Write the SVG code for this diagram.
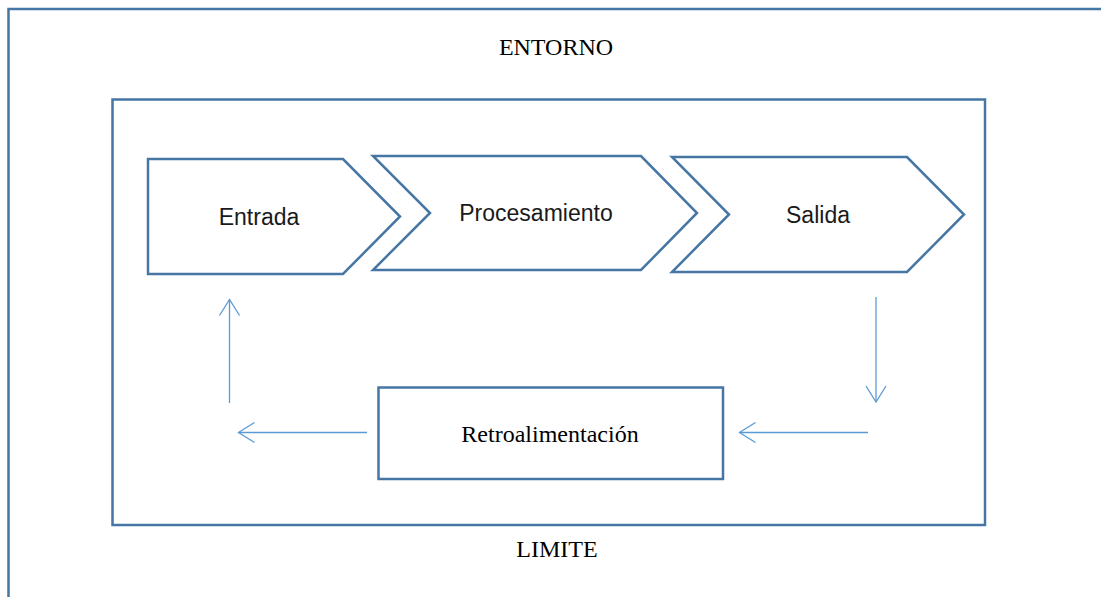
<svg xmlns="http://www.w3.org/2000/svg" width="1101" height="597" viewBox="0 0 1101 597">
<style>
.frame{fill:none;stroke:#4676A3;stroke-width:2.5}
.shape{fill:#ffffff;stroke:#4676A3;stroke-width:2.5;stroke-linejoin:miter}
.sans{font-family:"Liberation Sans",Arial,sans-serif;font-size:23px;fill:#1a1a1a;text-anchor:middle}
.serif{font-family:"Liberation Serif","Times New Roman",serif;font-size:24px;fill:#000;text-anchor:middle}
.conn{fill:none;stroke:#5B9BD5;stroke-width:1.3}
</style>
<defs>
<marker id="arr" markerUnits="userSpaceOnUse" markerWidth="20" markerHeight="24" viewBox="-18 -12 20 24" refX="0" refY="0" orient="auto" overflow="visible">
<path d="M-16,-10 L0,0 L-16,10" fill="none" stroke="#5B9BD5" stroke-width="1.3"/>
</marker>
</defs>
<rect width="1101" height="597" fill="#ffffff"/>
<g id="entorno">
<polyline class="frame" points="8.5,600 8.5,9 1104,9"/>
<text class="serif" x="556" y="55">ENTORNO</text>
</g>
<g id="limite">
<rect class="frame" x="112.5" y="99.5" width="872.5" height="425.5"/>
<text class="serif" x="557" y="557">LIMITE</text>
</g>
<g id="entrada">
<polygon class="shape" points="148,159 343,159 400,216.5 343,274 148,274"/>
<text class="sans" x="259" y="225">Entrada</text>
</g>
<g id="procesamiento">
<polygon class="shape" points="373,156 641,156 697,213 641,270 373,270 430,213"/>
<text class="sans" x="536" y="221">Procesamiento</text>
</g>
<g id="salida">
<polygon class="shape" points="672,157 907,157 964,214.5 907,272 672,272 729,214.5"/>
<text class="sans" x="818" y="223">Salida</text>
</g>
<g id="retroalimentacion">
<rect class="shape" x="378.5" y="387.5" width="344.5" height="91.5"/>
<text class="serif" x="550" y="442">Retroalimentación</text>
</g>
<g id="connectors">
<line class="conn" x1="876" y1="297" x2="876" y2="402" marker-end="url(#arr)"/>
<line class="conn" x1="868" y1="432.5" x2="739.5" y2="432.5" marker-end="url(#arr)"/>
<line class="conn" x1="367" y1="432.5" x2="238.5" y2="432.5" marker-end="url(#arr)"/>
<line class="conn" x1="229.5" y1="403" x2="229.5" y2="299.5" marker-end="url(#arr)"/>
</g>
</svg>
